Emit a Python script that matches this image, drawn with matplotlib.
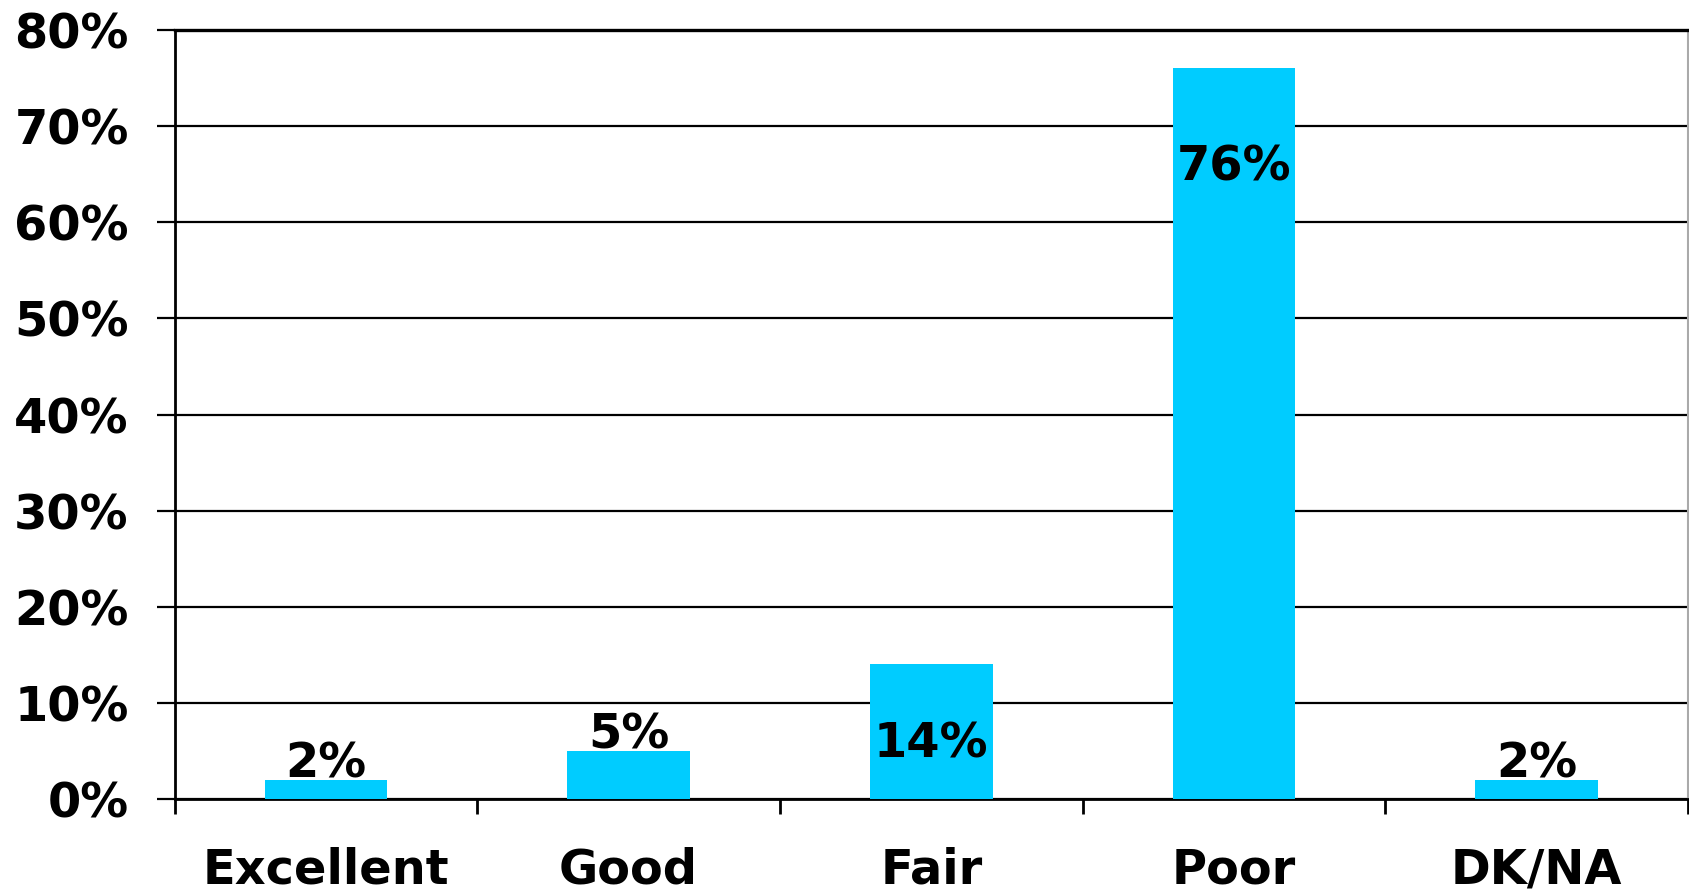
import matplotlib
matplotlib.use("Agg")
import matplotlib.pyplot as plt
from matplotlib.ticker import FixedLocator, FuncFormatter

categories = ["Excellent", "Good", "Fair", "Poor", "DK/NA"]
values = [2, 5, 14, 76, 2]
value_labels = ["2%", "5%", "14%", "76%", "2%"]
yticks = [0, 10, 20, 30, 40, 50, 60, 70, 80]

bar_color = "#00CCFF"
font = "DejaVu Sans"
fs = 34.5

fig = plt.figure(figsize=(16.9, 8.9), dpi=100)
ax = fig.add_axes([0.1033, 0.1022, 0.8955, 0.8641])

x = list(range(len(categories)))
ax.bar(x, values, width=0.405, color=bar_color, zorder=3)

ax.set_xlim(-0.5, len(categories) - 0.5)
ax.set_ylim(0, 80)

# grid
ax.set_yticks(yticks)
ax.yaxis.set_major_formatter(FuncFormatter(lambda v, p: f"{int(v)}%"))
ax.grid(axis="y", color="black", linewidth=1.6, zorder=1)
ax.set_axisbelow(True)

# x ticks: labels at centres, tick marks at boundaries
ax.set_xticks(x)
ax.set_xticklabels(categories)
ax.xaxis.set_minor_locator(FixedLocator([i - 0.5 for i in range(len(categories) + 1)]))
ax.tick_params(axis="x", which="major", length=0, pad=34)
ax.tick_params(axis="x", which="minor", length=11, width=2, color="black", direction="out")
ax.tick_params(axis="y", which="major", length=13, width=1.6, pad=20, direction="out")

for lab in ax.get_xticklabels() + ax.get_yticklabels():
    lab.set_fontfamily(font)
    lab.set_fontweight("bold")
    lab.set_fontsize(fs)

ax.spines["top"].set_color("black")
ax.spines["top"].set_linewidth(2.4)
ax.spines["left"].set_linewidth(2)
ax.spines["bottom"].set_linewidth(2)
ax.spines["right"].set_color("#aaaaaa")
ax.spines["right"].set_linewidth(1.5)

# value labels
for xi, v, t in zip(x, values, value_labels):
    if v < 10:
        ax.annotate(t, (xi, v), xytext=(0, 2), textcoords="offset points",
                    ha="center", va="baseline", fontsize=fs, fontweight="bold",
                    family=font, zorder=4)
    else:
        off = -40 if v < 50 else -54
        ax.annotate(t, (xi, v), xytext=(0, off), textcoords="offset points",
                    ha="center", va="top", fontsize=fs, fontweight="bold",
                    family=font, zorder=4)

fig.savefig("out.png", dpi=100, facecolor="white")
